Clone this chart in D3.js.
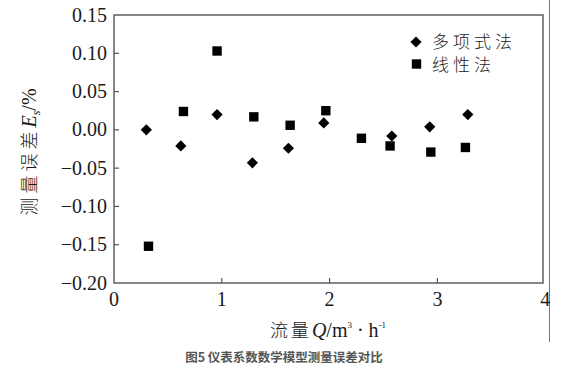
<!DOCTYPE html>
<html>
<head>
<meta charset="utf-8">
<script src="https://cdn.jsdelivr.net/npm/d3@7"></script>
<style>
body{margin:0;background:#fff}
svg{display:block}
.tk{font-family:"Liberation Serif","DejaVu Serif",serif;font-size:20px;fill:#1a1a1a}
.cj{font-family:"Noto Sans CJK SC",sans-serif;font-weight:300;fill:#1a1a1a}
</style>
</head>
<body>
<div id="chart"></div>
<script>
var width = 569, height = 375
var polyQ = [0.30,0.62,0.956,1.284,1.618,1.946,2.577,2.929,3.282]
var polyE = [0.00,-0.021,0.020,-0.043,-0.024,0.009,-0.008,0.004,0.020]
var linQ = [0.32,0.644,0.956,1.297,1.634,1.965,2.295,2.561,2.939,3.26]
var linE = [-0.152,0.024,0.103,0.017,0.006,0.025,-0.011,-0.021,-0.029,-0.023]
var xTicks = [0,1,2,3,4]
var yTicks = [0.15,0.10,0.05,0.00,-0.05,-0.10,-0.15,-0.20]
var seriesNames = ["多项式法","线性法"]

var plotL = 114, plotR = 543, plotT = 15, plotB = 283

var svg = d3.select("#chart").append("svg").attr("width",width).attr("height",height)

var x = d3.scaleLinear().domain([0,4]).range([plotL,plotL+4*107.8])
var y = d3.scaleLinear().domain([-0.20,0.15]).range([plotB,plotT])

// stray line on the right of the scan
svg.append("line").attr("x1",549.5).attr("x2",549.5).attr("y1",0).attr("y2",342)
.attr("stroke","#777").attr("stroke-width",1)

svg.append("rect").attr("x",plotL).attr("y",plotT).attr("width",plotR-plotL).attr("height",plotB-plotT)
.attr("fill","none").attr("stroke","#555").attr("stroke-width",1.4)

// ticks inward
svg.selectAll(".ytk").data(yTicks.slice(1,-1)).enter().append("line")
.attr("x1",plotL).attr("x2",plotL+5).attr("y1",function(d){return y(d)}).attr("y2",function(d){return y(d)})
.attr("stroke","#555").attr("stroke-width",1.2)
svg.selectAll(".xtk").data(xTicks.slice(1,-1)).enter().append("line")
.attr("x1",function(d){return x(d)}).attr("x2",function(d){return x(d)}).attr("y1",plotB).attr("y2",plotB-5)
.attr("stroke","#555").attr("stroke-width",1.2)

svg.selectAll(".ylab").data(yTicks).enter().append("text").attr("class","tk")
.attr("x",107).attr("y",function(d){return y(d)+6.5})
.attr("text-anchor","end")
.text(function(d){return d3.format(".2f")(d).replace("-","\u2212")})

svg.selectAll(".xlab").data(xTicks).enter().append("text").attr("class","tk")
.attr("x",function(d){return x(d)}).attr("y",306)
.attr("text-anchor","middle")
.text(function(d){return d})

var diamond = d3.symbol().type(d3.symbolDiamond2).size(80)
var square = d3.symbol().type(d3.symbolSquare).size(88)

svg.selectAll(".poly").data(polyQ).enter().append("path")
.attr("d",diamond)
.attr("transform",function(d,i){return "translate("+x(d)+","+y(polyE[i])+")"})
.attr("fill","#000")

svg.selectAll(".lin").data(linQ).enter().append("path")
.attr("d",square)
.attr("transform",function(d,i){return "translate("+x(d)+","+y(linE[i])+")"})
.attr("fill","#000")

// legend
svg.append("path").attr("d",diamond).attr("transform","translate(416,42)").attr("fill","#000")
svg.append("path").attr("d",square).attr("transform","translate(416.5,64)").attr("fill","#000")
svg.selectAll(".leg").data(seriesNames).enter().append("text").attr("class","cj")
.attr("x",432).attr("y",function(d,i){return 48+i*22.5})
.style("font-size","17px").style("letter-spacing","4px")
.text(function(d){return d})

// y title
var yt = svg.append("text").attr("transform","translate(36,152) rotate(-90)")
.attr("text-anchor","middle").style("font-size","20px")
yt.append("tspan").attr("class","cj").style("letter-spacing","4px").style("font-size","18px").text("测量误差")
yt.append("tspan").attr("class","tk").style("font-style","italic").text("E")
yt.append("tspan").attr("class","tk").style("font-size","12px").style("font-style","italic").attr("dy",4).text("s")
yt.append("tspan").attr("class","tk").attr("dy",-4).text("/%")

// x title
var xt = svg.append("text").attr("x",328).attr("y",337).attr("text-anchor","middle").style("font-size","20px")
xt.append("tspan").attr("class","cj").style("letter-spacing","3px").style("font-size","18px").text("流量")
xt.append("tspan").attr("class","tk").style("font-style","italic").text("Q")
xt.append("tspan").attr("class","tk").text("/m")
xt.append("tspan").attr("class","tk").style("font-size","9px").attr("dy",-9).text("3")
xt.append("tspan").attr("class","tk").attr("dy",9).text(" \u00b7 h")
xt.append("tspan").attr("class","tk").style("font-size","9px").attr("dy",-9).text("-1")

// caption
svg.append("text").attr("x",284).attr("y",362).attr("text-anchor","middle")
.style("font-family","'Noto Sans CJK SC',sans-serif").style("font-weight","bold").style("font-size","12.5px")
.attr("fill","#555").text("图5 仪表系数数学模型测量误差对比")
</script>
</body>
</html>
